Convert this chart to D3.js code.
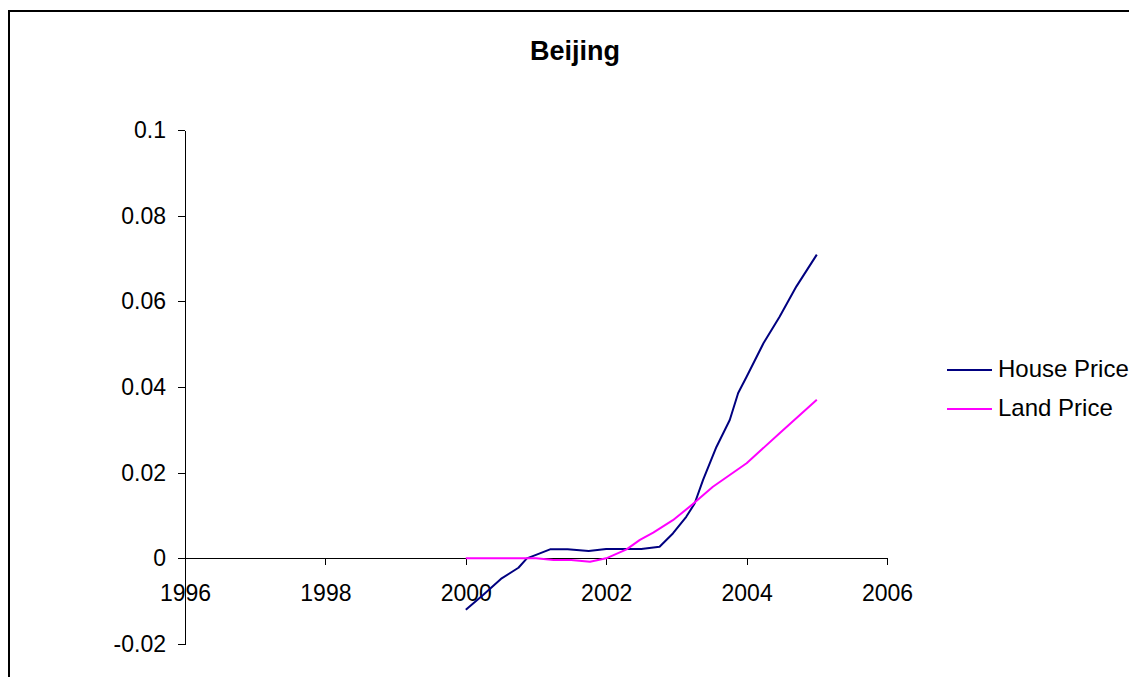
<!DOCTYPE html>
<html>
<head>
<meta charset="utf-8">
<script src="https://cdn.jsdelivr.net/npm/d3@7"></script>
<style>
  body { margin: 0; background: #fff; }
  svg { display: block; }
  text { font-family: "Liberation Sans", Arial, sans-serif; fill: #000; }
</style>
</head>
<body>
<svg id="chart" width="1129" height="677"></svg>
<script>
// Beijing: house price vs land price (2000–2005)
const houseYears  = [2000, 2000.25, 2000.5, 2000.75, 2000.87, 2001, 2001.2, 2001.45, 2001.75, 2002,
                     2002.25, 2002.5, 2002.76, 2002.95, 2003.14, 2003.26, 2003.38, 2003.57, 2003.76,
                     2003.88, 2004, 2004.24, 2004.47, 2004.71, 2005];
const houseValues = [-0.012, -0.0085, -0.0048, -0.0022, 0.0, 0.0008, 0.0021, 0.0021, 0.0017, 0.0022,
                     0.0022, 0.0022, 0.0027, 0.0058, 0.0097, 0.0128, 0.0183, 0.026, 0.0323,
                     0.0386, 0.0424, 0.0502, 0.0564, 0.0635, 0.0709];

const landYears   = [2000, 2000.5, 2001, 2001.25, 2001.5, 2001.77, 2002, 2002.29, 2002.48, 2002.67,
                     2002.95, 2003.23, 2003.52, 2004, 2004.47, 2005];
const landValues  = [0, 0, 0, -0.0004, -0.0004, -0.0008, 0, 0.0021, 0.0043, 0.0060,
                     0.0089, 0.0126, 0.0167, 0.0222, 0.0292, 0.037];

const xTicks = [1996, 1998, 2000, 2002, 2004, 2006];
const yTicks = [-0.02, 0, 0.02, 0.04, 0.06, 0.08, 0.1];
const seriesNames = ["House Price", "Land Price"];
const seriesColors = ["#000080", "#FF00FF"];

const svg = d3.select("#chart");

// outer chart frame
svg.append("rect")
  .attr("x", 9).attr("y", 11)
  .attr("width", 1300).attr("height", 1000)
  .attr("fill", "none").attr("stroke", "#000").attr("stroke-width", 2);

const x = d3.scaleLinear().domain([1996, 2006]).range([185, 887]);
const y = d3.scaleLinear().domain([-0.02, 0.1]).range([644, 130]);

const fmtY = d => d === 0 ? "0" : String(+d.toFixed(2));

// y axis
const yAxis = svg.append("g")
  .attr("transform", `translate(${x(1996)},0)`)
  .call(d3.axisLeft(y).tickValues(yTicks).tickFormat(fmtY).tickSize(7).tickSizeOuter(0).tickPadding(12));

// x axis along zero
const xAxis = svg.append("g")
  .attr("transform", `translate(0,${y(0)})`)
  .call(d3.axisBottom(x).tickValues(xTicks).tickFormat(d3.format("d")).tickSize(7).tickSizeOuter(0).tickPadding(19));

[yAxis, xAxis].forEach(g => {
  g.selectAll("path, line").attr("stroke", "#000").attr("shape-rendering", "crispEdges");
  g.selectAll("text").attr("font-size", 23).attr("font-family", "Liberation Sans, Arial, sans-serif").attr("fill", "#000");
});

// series lines
const line = d3.line().x(d => x(d[0])).y(d => y(d[1]));
const series = [
  d3.zip(houseYears, houseValues),
  d3.zip(landYears, landValues)
];
series.forEach((pts, i) => {
  svg.append("path")
    .datum(pts)
    .attr("d", line)
    .attr("fill", "none")
    .attr("stroke", seriesColors[i])
    .attr("stroke-width", 2)
    .attr("stroke-linejoin", "round");
});

// title
svg.append("text")
  .attr("x", 575).attr("y", 60)
  .attr("text-anchor", "middle")
  .attr("font-size", 27).attr("font-weight", "bold")
  .text("Beijing");

// legend
const legend = svg.append("g");
seriesNames.forEach((name, i) => {
  const ly = 370 + i * 39;
  legend.append("line")
    .attr("x1", 947).attr("x2", 992).attr("y1", ly).attr("y2", ly)
    .attr("stroke", seriesColors[i]).attr("stroke-width", 2);
  legend.append("text")
    .attr("x", 998).attr("y", ly + 7)
    .attr("font-size", 24)
    .text(name);
});
</script>
</body>
</html>
